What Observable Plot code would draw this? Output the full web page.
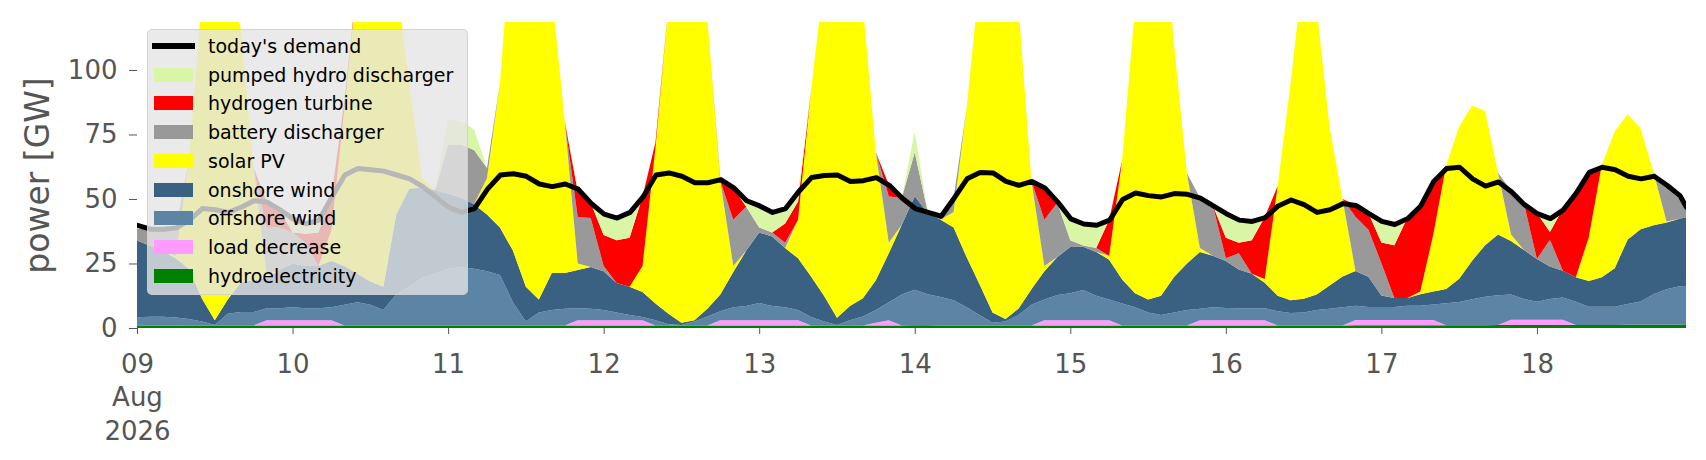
<!DOCTYPE html>
<html>
<head>
<meta charset="utf-8">
<script src="https://cdn.jsdelivr.net/npm/d3@7"></script>
<script src="https://cdn.jsdelivr.net/npm/@observablehq/plot@0.6"></script>
<style>
  body { margin: 0; background: #fff; font-family: "DejaVu Sans", sans-serif; }
  #wrap { position: relative; width: 1706px; height: 460px; overflow: hidden; }
  #legend { position: absolute; left: 147px; top: 29px; width: 321px; height: 266px;
    background: rgba(229,229,229,0.8); border: 1px solid rgba(204,204,204,0.8);
    border-radius: 5px; box-sizing: border-box; }
  .row { position: absolute; left: 0; height: 24px; width: 320px; }
  .sw { position: absolute; left: 6px; top: 5px; width: 39px; height: 14px; }
  .ln { position: absolute; left: 4px; top: 9px; width: 43px; height: 6px; background: #000; }
  .lab { position: absolute; left: 60px; top: 0; line-height: 24px; font-size: 19px; color: #000; white-space: nowrap; }
</style>
</head>
<body>
<div id="wrap"><div id="chart"></div><div id="legend"></div></div>
<script>
// samples every 2 h from 2026-08-09 00:00 UTC, last one at 2026-08-18 23:00
const hours = d3.range(0, 240, 2).concat([239]);

const demand = [
  40, 38.5, 38.5, 39, 42, 46.5, 46, 45, 47, 49.5, 49, 46,
  42.5, 40.6, 42, 51, 59.5, 62, 61.5, 61, 59.5, 58, 55, 51,
  47, 45, 46.5, 54, 59.5, 60, 59, 56, 55, 56, 54, 48.5,
  44.3, 42.8, 45, 51, 59.5, 60.3, 59, 56.5, 56.5, 57.7, 54.5, 49.5,
  47.5, 45, 46.5, 53, 58.5, 59.3, 59.5, 57, 57.3, 58.5, 55.5, 50.5,
  46.5, 45, 43.5, 50.5, 58, 60.5, 60.3, 57, 55.5, 57, 54.5, 49,
  42.5, 40.5, 40, 42, 50, 52.5, 51.5, 51, 52.3, 52, 50.5, 47.5,
  44.5, 42, 41.5, 43, 47.5, 49.8, 48, 45, 46, 48.4, 47.7, 44.5,
  41.5, 40.3, 42.6, 47.5, 57, 62, 62.5, 58, 55.2, 56.8, 53, 48,
  44.5, 42.6, 46, 52.5, 60.5, 62.5, 61.5, 59, 58, 59, 55.5, 51.5, 47
];

const hydroelectricity = [
  0.9, 0.9, 0.9, 0.9, 1, 1, 1, 1, 1, 1, 1, 1,
  1, 1, 1, 1, 1, 1, 1, 1, 1, 1, 1, 1,
  1, 1, 1, 1, 1, 1, 1, 1, 1, 1, 1, 1,
  1, 1, 1, 1, 1, 1, 1, 1, 1, 1, 1, 1,
  1, 1, 1, 1, 1, 1, 1, 1, 1, 1, 1, 1,
  1.1, 1.1, 1, 1, 1, 1, 1, 1, 1, 1, 1, 1,
  1, 1, 1, 1, 1, 1, 1, 1, 1, 1, 1, 1,
  1, 1, 1, 1, 1, 1, 1, 1, 1, 1, 1.1, 1.1,
  1.1, 1.1, 1.1, 1.1, 1.1, 1.1, 1.1, 1.1, 1.1, 1.2, 1.2, 1.2,
  1.2, 1.2, 1.2, 1.2, 1.2, 1.2, 1.2, 1.3, 1.3, 1.3, 1.3, 1.3, 1.3
];

const loadDecrease = [
  0, 0, 0, 0, 0, 0, 0, 0, 0, 0, 2, 2,
  2, 2, 2, 2, 0, 0, 0, 0, 0, 0, 0, 0,
  0, 0, 0, 0, 0, 0, 0, 0, 0, 0, 2, 2,
  2, 2, 2, 2, 0, 0, 0, 0, 0, 2, 2, 2,
  2, 2, 2, 2, 0, 0, 0, 0, 0, 1, 2, 0,
  0, 0, 0, 0, 0, 0, 0, 0, 0, 0, 2, 2,
  2, 2, 2, 2, 0, 0, 0, 0, 0, 0, 2, 2,
  2, 2, 2, 2, 0, 0, 0, 0, 0, 0, 2, 2,
  2, 2, 2, 2, 2, 0, 0, 0, 0, 0, 2, 2,
  2, 2, 2, 0, 0, 0, 0, 0, 0, 0, 0, 0, 0
];

const offshoreWind = [
  3.3, 3.5, 3.5, 3.2, 2.5, 1.5, 0.2, 4.5, 5.2, 5.2, 4.7, 4.7,
  5, 4.7, 4.7, 5, 8, 9, 8, 6, 12, 15, 18.5, 20,
  22, 22.5, 22, 21, 19.5, 9, 1.5, 5, 6, 6.5, 4.7, 4.5,
  4, 3, 2, 1.3, 2, 0.5, 0.2, 1.5, 3.5, 3.5, 5, 5.5,
  6.7, 5.5, 5, 4, 3.3, 1.5, 0.2, 2, 3.5, 5, 7, 12,
  13.7, 12, 11, 9.8, 7, 4, 1, 1.5, 4, 8, 8, 9.8,
  10.5, 11.7, 9.5, 8, 8.5, 7, 5, 4, 5, 6, 4.5, 5,
  4.8, 4.7, 4.7, 4.7, 5.5, 4.8, 5, 6, 6.5, 7, 5.5, 5,
  5, 5, 5.5, 5.5, 6, 8.5, 9, 10, 11, 11.5, 9.8, 8,
  7, 8, 8.6, 9, 7, 7, 7, 8, 9, 11.8, 13.7, 14.9, 15
];

const onshoreWind = [
  29.7, 27.5, 25.5, 22.8, 19.5, 9, 1.8, 5.5, 11.3, 12.4, 11.8, 14.8,
  17, 16.3, 16.3, 18, 15, 11, 9, 9, 31, 38, 35, 32.5,
  29, 27, 25, 22, 18.5, 20, 13.5, 5, 14.3, 13.8, 14.8, 16.1,
  15, 11.4, 11, 9.7, 6.5, 4, 0.8, 0.5, 3, 6.5, 13.7, 21.5,
  27.3, 27, 23, 20, 15.7, 10, 2.8, 5.5, 7, 11.5, 19, 27,
  36.3, 31.5, 30, 28.2, 19.5, 12, 4, 1, 2.5, 6, 11, 14.7,
  17.9, 16.8, 17, 15.5, 9.3, 5.5, 5, 7.5, 13.8, 18, 22, 20,
  18.2, 15, 13.3, 9.8, 6, 5, 5.3, 6, 9, 12, 13.5, 11.8,
  4.5, 3.5, 3, 4.5, 5, 5.5, 9, 15, 20, 23.5, 20.7, 19,
  16.5, 12.6, 10.4, 9.5, 10, 11.5, 15, 25, 28, 26.7, 25.9, 26.1, 26.6
];

const solarPV = [
  0, 0, 0, 1, 42, 116.5, 162, 129, 98.5, 43.4, 1.5, 0,
  0, 0, 0, 12, 61, 114, 152, 159, 91, 41, 3.5, 0,
  0, 0, 0, 14, 56, 130, 174, 174, 108.7, 58.7, 2.5, 0,
  0, 0, 0, 10, 60.5, 119.5, 208, 197, 112.5, 44, 2.3, 0,
  0, 0, 0, 15, 72, 122.5, 186, 176.5, 113.5, 49.5, 4, 0,
  0, 0, 0, 6, 57.5, 118, 184, 176.5, 117.5, 42, 2, 0,
  0, 0, 0, 1.5, 46.2, 111.5, 169, 157.5, 90.2, 35, 1.5, 0,
  0, 0, 0, 1.5, 42.5, 84.2, 128.7, 111, 61.5, 30, 0, 0,
  0, 0, 0, 1, 22, 48, 59, 60, 52, 24, 2.5, 0,
  0, 0, 0, 0, 17, 43.5, 53, 48.5, 39, 20.5, 0.4, 0, 0
];

const batteryDischarger = [
  4.5, 6.5, 8.5, 11, 0, 0, 0, 0, 0, 0, 18, 16.5,
  12, 9, 0, 0, 0, 0, 0, 0, 0, 0, 0, 0,
  19, 20.5, 21, 4, 0, 0, 0, 0, 0, 0, 18, 19,
  2, 0, 0, 0, 0, 0, 0, 0, 0, 0, 18, 17,
  2, 1.5, 2, 0, 0, 0, 0, 0, 0, 0, 18, 10.5,
  17, 0.5, 1.5, 5.5, 0, 0, 0, 0, 0, 0, 18, 21,
  2.6, 0.5, 1.5, 0, 0, 0, 0, 0, 0, 0, 19.5, 19.5,
  1, 6.3, 0, 0, 0, 0, 0, 0, 0, 0, 21, 18.2,
  12.5, 0, 0, 0, 0, 0, 0, 0, 0, 0, 17, 18,
  0, 10.4, 0, 0, 0, 0, 0, 0, 0, 0, 14.5, 9.5, 4.4
];

const hydrogenTurbine = [
  0, 0, 0, 0, 0, 0, 0, 0, 0, 0, 10, 7,
  0, 3.5, 13, 13, 3, 0, 0, 0, 0, 0, 0, 0,
  0, 0, 0, 0, 0, 0, 0, 0, 0, 0, 10, 5.9,
  12, 16.6, 19, 27, 2, 0, 0, 0, 0, 0.7, 12.5, 0,
  0, 0, 7.5, 7, 0, 0, 0, 0, 0, 0, 4.5, 0,
  0, 0, 0, 0, 0, 0, 0, 0, 0, 0, 12.5, 0,
  0, 0, 0, 14, 0, 0, 0, 0, 0, 0, 0, 0,
  8, 4, 13, 24, 0, 0, 0, 0, 0, 0, 4.7, 6.5,
  8, 20.5, 31.1, 33.5, 21, 0, 0, 0, 0, 0, 0, 0,
  18, 3, 24, 33, 25.5, 0, 0, 0, 0, 0, 0, 0, 0
];

const pumpedHydro = [
  1.8, 0, 0, 0, 0, 0, 0, 0, 0, 0, 0, 0,
  5.5, 4.1, 5, 0, 0, 0, 0, 0, 0, 0, 0, 0,
  10, 9, 8, 0, 0, 0, 0, 0, 0, 0, 1, 0,
  8.3, 8.8, 10, 0, 0, 0, 0, 0, 0, 0, 0, 2.5,
  8.5, 8, 6, 4, 0, 0, 0, 0, 0, 0, 0, 0,
  8, 0, 0, 0, 0, 0, 0, 0, 0, 0, 0, 0.5,
  8.5, 8.5, 9, 0, 0, 0, 0, 0, 0, 0, 0, 0,
  9.5, 9, 7.5, 0, 0, 0, 0, 0, 0, 0, 0, 0,
  8.5, 8.3, 0, 0, 0, 0, 0, 0, 0, 0, 0, 0,
  0, 5.6, 0, 0, 0, 0, 0, 0, 0, 0, 0, 0, 0
];

// stacking order: bottom first
const seriesNames = ["hydroelectricity", "load decrease", "offshore wind", "onshore wind",
  "solar PV", "battery discharger", "hydrogen turbine", "pumped hydro discharger"];
const seriesColors = ["#008000", "#ff9bff", "#5c84a5", "#3b6182",
  "#ffff00", "#999999", "#ff0000", "#d9f5a6"];
const seriesValues = [hydroelectricity, loadDecrease, offshoreWind, onshoreWind,
  solarPV, batteryDischarger, hydrogenTurbine, pumpedHydro];

const dayTicks = ["2026-08-09", "2026-08-10", "2026-08-11", "2026-08-12", "2026-08-13",
  "2026-08-14", "2026-08-15", "2026-08-16", "2026-08-17", "2026-08-18"];
const yTicks = [0, 25, 50, 75, 100];

const start = Date.UTC(2026, 7, 9);
const dates = hours.map(h => new Date(start + h * 3600e3));
const rows = seriesNames.flatMap((name, k) =>
  seriesValues[k].map((v, i) => ({date: dates[i], series: name, value: v})));
const demandRows = demand.map((v, i) => ({date: dates[i], value: v}));
const tickDates = dayTicks.map(s => new Date(s + "T00:00:00Z"));

const chart = Plot.plot({
  width: 1706, height: 460,
  marginLeft: 137, marginRight: 20, marginTop: 22, marginBottom: 132,
  style: {fontFamily: "DejaVu Sans, sans-serif", background: "white", color: "#555"},
  x: {type: "utc", domain: [dates[0], dates[dates.length - 1]]},
  y: {domain: [0, 118.6]},
  color: {domain: seriesNames, range: seriesColors},
  marks: [
    Plot.areaY(rows, {x: "date", y: "value", z: "series", fill: "series", order: seriesNames, clip: true}),
    Plot.lineY(demandRows, {x: "date", y: "value", stroke: "black", strokeWidth: 5, clip: true}),
    Plot.axisX({ticks: tickDates, tickSize: 6, tickPadding: 14, fontSize: 26, lineHeight: 1.3,
      label: null, color: "#555",
      tickFormat: d => d.getUTCDate() === 9 ? "09\nAug\n2026" : d3.utcFormat("%d")(d)}),
    Plot.axisY({ticks: yTicks, tickSize: 8, tickPadding: 12, fontSize: 26, label: null, color: "#555"}),
    Plot.text(["power [GW]"], {text: d => d, frameAnchor: "left", textAnchor: "middle", lineAnchor: "middle",
      dx: -99, rotate: -90, fontSize: 33, fill: "#555"})
  ]
});
document.getElementById("chart").appendChild(chart);

// legend (top of stack first)
const legend = document.getElementById("legend");
const entries = [{name: "today's demand", line: true}].concat(
  seriesNames.map((n, k) => ({name: n, color: seriesColors[k]})).reverse());
entries.forEach((e, i) => {
  const row = document.createElement("div");
  row.className = "row";
  row.style.top = (17 + i * 28.7 - 12 - 1) + "px";
  const mark = document.createElement("div");
  if (e.line) { mark.className = "ln"; } else { mark.className = "sw"; mark.style.background = e.color; }
  const lab = document.createElement("div");
  lab.className = "lab";
  lab.textContent = e.name;
  row.appendChild(mark); row.appendChild(lab);
  legend.appendChild(row);
});
</script>
</body>
</html>
